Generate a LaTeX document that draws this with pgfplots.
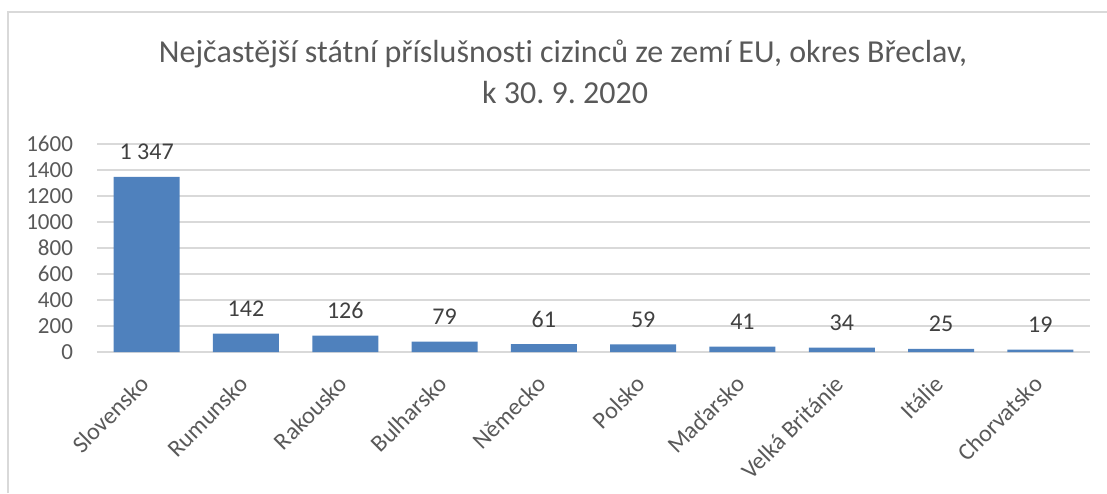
\documentclass[border=0pt]{standalone}
\usepackage{pgfplots}
\pgfplotsset{compat=1.18}
\usepackage{fontspec}
\setmainfont{Carlito}[Ligatures=NoCommon]
\frenchspacing
\definecolor{barblue}{HTML}{4F81BD}
\definecolor{txt}{HTML}{595959}
\definecolor{lbl}{HTML}{404040}
\definecolor{gridc}{HTML}{D9D9D9}
\begin{document}
\begin{tikzpicture}
\path[use as bounding box] (0,0) rectangle (553.5pt,246.5pt);
\draw[gridc, line width=0.75pt] (4pt,0) -- (4pt,240.5pt) -- (553.5pt,240.5pt);
\node[anchor=base, text=txt, font=\fontsize{16}{19}\selectfont, inner sep=0pt] at (281.5pt,215pt) {Nejčastější státní příslušnosti cizinců ze zemí EU, okres Břeclav,};
\node[anchor=base, text=txt, font=\fontsize{16}{19}\selectfont, inner sep=0pt] at (282.5pt,194.5pt) {k 30. 9. 2020};
\begin{axis}[
  at={(48.5pt,70.5pt)}, anchor=south west,
  scale only axis, width=496.5pt, height=104pt,
  xmin=-0.5, xmax=9.5, ymin=0, ymax=1600,
  ytick={0,200,...,1600},
  xtick=data,
  xticklabels={Slovensko,Rumunsko,Rakousko,Bulharsko,Německo,Polsko,Maďarsko,Velká Británie,Itálie,Chorvatsko},
  axis lines=left,
  axis line style={draw=none},
  major tick length=0pt,
  ymajorgrids, grid style={gridc, line width=0.75pt},
  /pgf/number format/assume math mode=true,
  /pgf/number format/1000 sep={},
  yticklabel style={font=\fontsize{11.5}{13}\selectfont, text=txt, xshift=-8.5pt},
  xticklabel style={font=\fontsize{12}{14}\selectfont, text=txt, rotate=45, anchor=east, xshift=2pt},
  xticklabel shift=13pt,
  ybar, bar width=33pt,
  nodes near coords,
  nodes near coords style={font=\fontsize{12}{14}\selectfont, text=lbl, anchor=base, yshift=8.5pt, /pgf/number format/1000 sep={\ }},
  clip=false,
]
\addplot[fill=barblue, draw=none] coordinates {
(0,1347) (1,142) (2,126) (3,79) (4,61) (5,59) (6,41) (7,34) (8,25) (9,19)
};
\end{axis}
\end{tikzpicture}
\end{document}
